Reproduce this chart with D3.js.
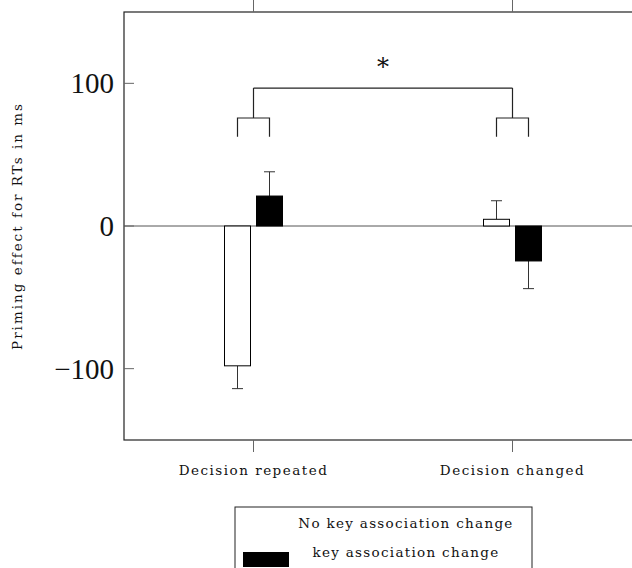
<!DOCTYPE html>
<html>
<head>
<meta charset="utf-8">
<script src="https://cdn.jsdelivr.net/npm/d3@7"></script>
<style>
  body { margin: 0; background: #fff; }
  text { font-family: "DejaVu Serif", "Liberation Serif", serif; fill: #111; }
</style>
</head>
<body>
<div id="chart"></div>
<script>
const categories = ["Decision repeated", "Decision changed"];
const series = ["No key association change", "key association change"];
const seriesFill = ["#fff", "#000"];
const noChangeValues = [-98, 4.7];
const noChangeErrors = [16, 13];
const changeValues = [21, -24.5];
const changeErrors = [17, 19.4];
const yTicks = [-100, 0, 100];
const yLabel = "Priming effect for RTs in ms";
// bracket levels (data units): legs bottom, small bracket, big bracket, star
const bracketLevels = { legs: 62.5, small: 75.7, big: 96.7, star: 115 };

const width = 632, height = 568;
const frame = { left: 124, right: 642, top: 12, bottom: 440 };

const svg = d3.select("#chart").append("svg")
    .attr("width", width)
    .attr("height", height);

const x = d3.scalePoint().domain(categories).range([frame.left, frame.right]).padding(0.5);
const x1 = d3.scaleBand().domain(series).range([-29, 29]).paddingInner(0.1875);
const y = d3.scaleLinear().domain([-150, 150]).range([frame.bottom, frame.top]);

const rows = [];
categories.forEach((c, i) => {
    rows.push({ cat: c, s: series[0], v: noChangeValues[i], e: noChangeErrors[i], fill: seriesFill[0] });
    rows.push({ cat: c, s: series[1], v: changeValues[i], e: changeErrors[i], fill: seriesFill[1] });
});

// zero line
svg.append("line")
    .attr("x1", frame.left).attr("x2", frame.right)
    .attr("y1", y(0)).attr("y2", y(0))
    .attr("stroke", "#555").attr("stroke-width", 1);

// error bars (one direction, away from zero)
const errG = svg.append("g").attr("stroke", "#333").attr("stroke-width", 1);
rows.forEach(d => {
    const cx = x(d.cat) + x1(d.s) + x1.bandwidth() / 2;
    const end = d.v >= 0 ? d.v + d.e : d.v - d.e;
    errG.append("line").attr("x1", cx).attr("x2", cx).attr("y1", y(d.v)).attr("y2", y(end));
    errG.append("line").attr("x1", cx - 5.5).attr("x2", cx + 5.5).attr("y1", y(end)).attr("y2", y(end));
});

// bars
svg.selectAll(".bar").data(rows).enter().append("rect")
    .attr("class", "bar")
    .attr("x", d => x(d.cat) + x1(d.s))
    .attr("width", x1.bandwidth())
    .attr("y", d => y(Math.max(0, d.v)))
    .attr("height", d => Math.abs(y(d.v) - y(0)))
    .attr("fill", d => d.fill)
    .attr("stroke", "#000").attr("stroke-width", 1);

// frame
svg.append("rect")
    .attr("x", frame.left).attr("y", frame.top)
    .attr("width", frame.right - frame.left).attr("height", frame.bottom - frame.top)
    .attr("fill", "none").attr("stroke", "#222").attr("stroke-width", 1.2);

// y ticks, inward on both sides
const tickG = svg.append("g").attr("stroke", "#666").attr("stroke-width", 1);
yTicks.forEach(t => {
    tickG.append("line").attr("x1", frame.left).attr("x2", frame.left + 10).attr("y1", y(t)).attr("y2", y(t));
    tickG.append("line").attr("x1", frame.right - 10).attr("x2", frame.right).attr("y1", y(t)).attr("y2", y(t));
});
// x ticks, outward top and bottom
categories.forEach(c => {
    tickG.append("line").attr("x1", x(c)).attr("x2", x(c)).attr("y1", frame.top).attr("y2", frame.top - 12);
    tickG.append("line").attr("x1", x(c)).attr("x2", x(c)).attr("y1", frame.bottom).attr("y2", frame.bottom + 12);
});

svg.selectAll(".ytick").data(yTicks).enter().append("text")
    .attr("class", "ytick")
    .attr("x", frame.left - 10)
    .attr("y", d => y(d))
    .attr("dy", "0.35em")
    .attr("text-anchor", "end")
    .style("font-family", "'Liberation Serif', serif")
    .style("font-size", "29px")
    .text(d => d < 0 ? "\u2212" + Math.abs(d) : d);

svg.selectAll(".xlabel").data(categories).enter().append("text")
    .attr("class", "xlabel")
    .attr("x", d => x(d))
    .attr("y", 475)
    .attr("text-anchor", "middle")
    .style("font-size", "13.5px")
    .style("letter-spacing", "1.5px")
    .text(d => d);

svg.append("text")
    .attr("transform", `translate(22,${(frame.top + frame.bottom) / 2}) rotate(-90)`)
    .attr("text-anchor", "middle")
    .style("font-size", "13.5px")
    .style("letter-spacing", "2px")
    .text(yLabel);

// significance brackets
const brG = svg.append("g").attr("fill", "none").attr("stroke", "#222").attr("stroke-width", 1.2);
categories.forEach(c => {
    const l = x(c) + x1(series[0]) + x1.bandwidth() / 2;
    const r = x(c) + x1(series[1]) + x1.bandwidth() / 2;
    brG.append("path")
        .attr("d", `M${l},${y(bracketLevels.legs)}V${y(bracketLevels.small)}H${r}V${y(bracketLevels.legs)}`);
    brG.append("line")
        .attr("x1", x(c)).attr("x2", x(c))
        .attr("y1", y(bracketLevels.small)).attr("y2", y(bracketLevels.big));
});
brG.append("line")
    .attr("x1", x(categories[0])).attr("x2", x(categories[1]))
    .attr("y1", y(bracketLevels.big)).attr("y2", y(bracketLevels.big));
svg.append("text")
    .attr("x", (x(categories[0]) + x(categories[1])) / 2)
    .attr("y", y(bracketLevels.star) + 13)
    .attr("text-anchor", "middle")
    .style("font-size", "24px")
    .style("font-weight", "300")
    .text("*");

// legend
const legend = svg.append("g");
legend.append("rect")
    .attr("x", 235).attr("y", 507).attr("width", 297).attr("height", 80)
    .attr("fill", "#fff").attr("stroke", "#222").attr("stroke-width", 1);
series.forEach((s, i) => {
    const ry = 521 + i * 29;
    legend.append("rect")
        .attr("x", 243).attr("y", ry + 2).attr("width", 46).attr("height", 15)
        .attr("fill", seriesFill[i]);
    legend.append("text")
        .attr("x", 406).attr("y", ry + 7)
        .attr("text-anchor", "middle")
        .style("font-size", "13.5px")
        .style("letter-spacing", "1.3px")
        .text(s);
});
</script>
</body>
</html>
